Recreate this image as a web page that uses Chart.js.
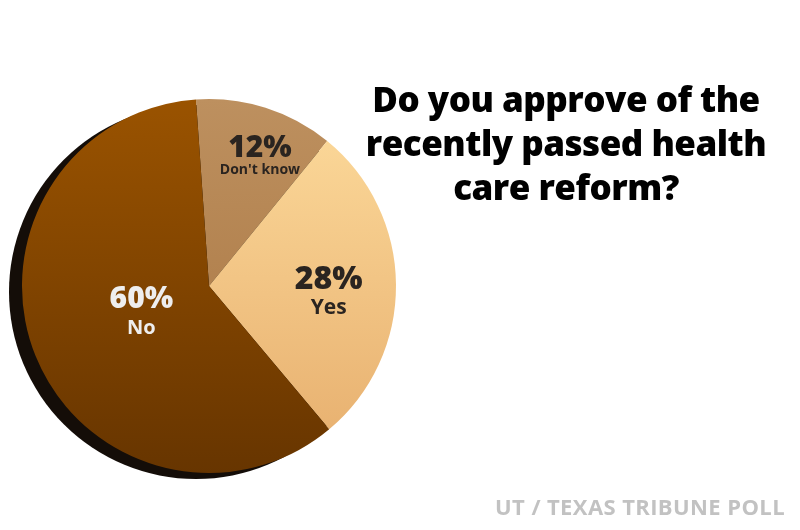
<!DOCTYPE html>
<html>
<head>
<meta charset="utf-8">
<script src="https://cdn.jsdelivr.net/npm/chart.js@4.4.0/dist/chart.umd.min.js"></script>
<style>
  html, body { margin: 0; padding: 0; background: #fff; }
  #wrap { position: relative; width: 800px; height: 530px; overflow: hidden; }
  #c { position: absolute; left: 0; top: 0; }
  #title {
    position: absolute; left: 350px; width: 432px; top: 77px;
    font-family: "Open Sans", "Noto Sans", sans-serif; font-weight: 800;
    font-size: 35px; line-height: 44px; text-align: center; color: #000;
    letter-spacing: -0.5px;
  }
  #source {
    position: absolute; right: 15px; top: 491px;
    font-family: "Open Sans", "Noto Sans", sans-serif; font-weight: 700;
    font-size: 22px; color: #c2c2c2; letter-spacing: 0.4px;
  }
</style>
</head>
<body>
<div id="wrap">
  <canvas id="c" width="800" height="530"></canvas>
  <div id="title">Do you approve of the<br>recently passed health<br>care reform?</div>
  <div id="source">UT / TEXAS TRIBUNE POLL</div>
</div>
<script>
const categories = ["Don't know", "Yes", "No"];
const values = [12, 28, 60];
const percentLabels = ["12%", "28%", "60%"];

// styles
const gradientStops = [
  ["#bd905f", "#a8743f"],
  ["#fddb9c", "#e6ad6c"],
  ["#9a5300", "#673500"]
];
const textColors = ["#2a2420", "#2a2420", "#eeeeee"];
const labelRadiusFrac = [0.74, 0.64, 0.38];
const labelAngleShiftDeg = [4, 2, 4];
const pctFont = [30, 32, 30];
const nameFont = [14, 21, 20];
const nameGap = [17, 25, 26];

const canvas = document.getElementById('c');

function sliceGradient(context) {
  const chart = context.chart;
  const area = chart.chartArea;
  if (!area) return gradientStops[context.dataIndex][0];
  const g = chart.ctx.createLinearGradient(0, area.top, 0, area.bottom);
  const s = gradientStops[context.dataIndex];
  g.addColorStop(0, s[0]);
  g.addColorStop(1, s[1]);
  return g;
}

const shadowPlugin = {
  id: 'shadow',
  beforeDatasetsDraw(chart) {
    const meta = chart.getDatasetMeta(0);
    if (!meta.data.length) return;
    const a = meta.data[0];
    const ctx = chart.ctx;
    ctx.save();
    ctx.fillStyle = '#140d08';
    ctx.beginPath();
    ctx.arc(a.x - 13, a.y + 6, a.outerRadius, 0, Math.PI * 2);
    ctx.fill();
    ctx.restore();
  }
};

const labelPlugin = {
  id: 'sliceLabels',
  afterDatasetsDraw(chart) {
    const meta = chart.getDatasetMeta(0);
    const ctx = chart.ctx;
    meta.data.forEach((arc, i) => {
      const mid = (arc.startAngle + arc.endAngle) / 2 + labelAngleShiftDeg[i] * Math.PI / 180;
      const r = arc.outerRadius * labelRadiusFrac[i];
      const x = arc.x + Math.cos(mid) * r;
      const y = arc.y + Math.sin(mid) * r;
      ctx.save();
      ctx.fillStyle = textColors[i];
      ctx.textAlign = 'center';
      ctx.textBaseline = 'alphabetic';
      ctx.font = `800 ${pctFont[i]}px "Open Sans", "Noto Sans", sans-serif`;
      ctx.fillText(percentLabels[i], x, y);
      ctx.font = `700 ${nameFont[i]}px "Open Sans", "Noto Sans", sans-serif`;
      ctx.fillText(categories[i], x, y + nameGap[i]);
      ctx.restore();
    });
  }
};

new Chart(canvas, {
  type: 'pie',
  data: {
    labels: categories,
    datasets: [{
      data: values,
      backgroundColor: sliceGradient,
      borderWidth: 0
    }]
  },
  options: {
    responsive: false,
    animation: false,
    rotation: -4,
    layout: { padding: { left: 22, right: 404, top: 99, bottom: 57 } },
    plugins: { legend: { display: false }, tooltip: { enabled: false } }
  },
  plugins: [shadowPlugin, labelPlugin]
});
</script>
</body>
</html>
